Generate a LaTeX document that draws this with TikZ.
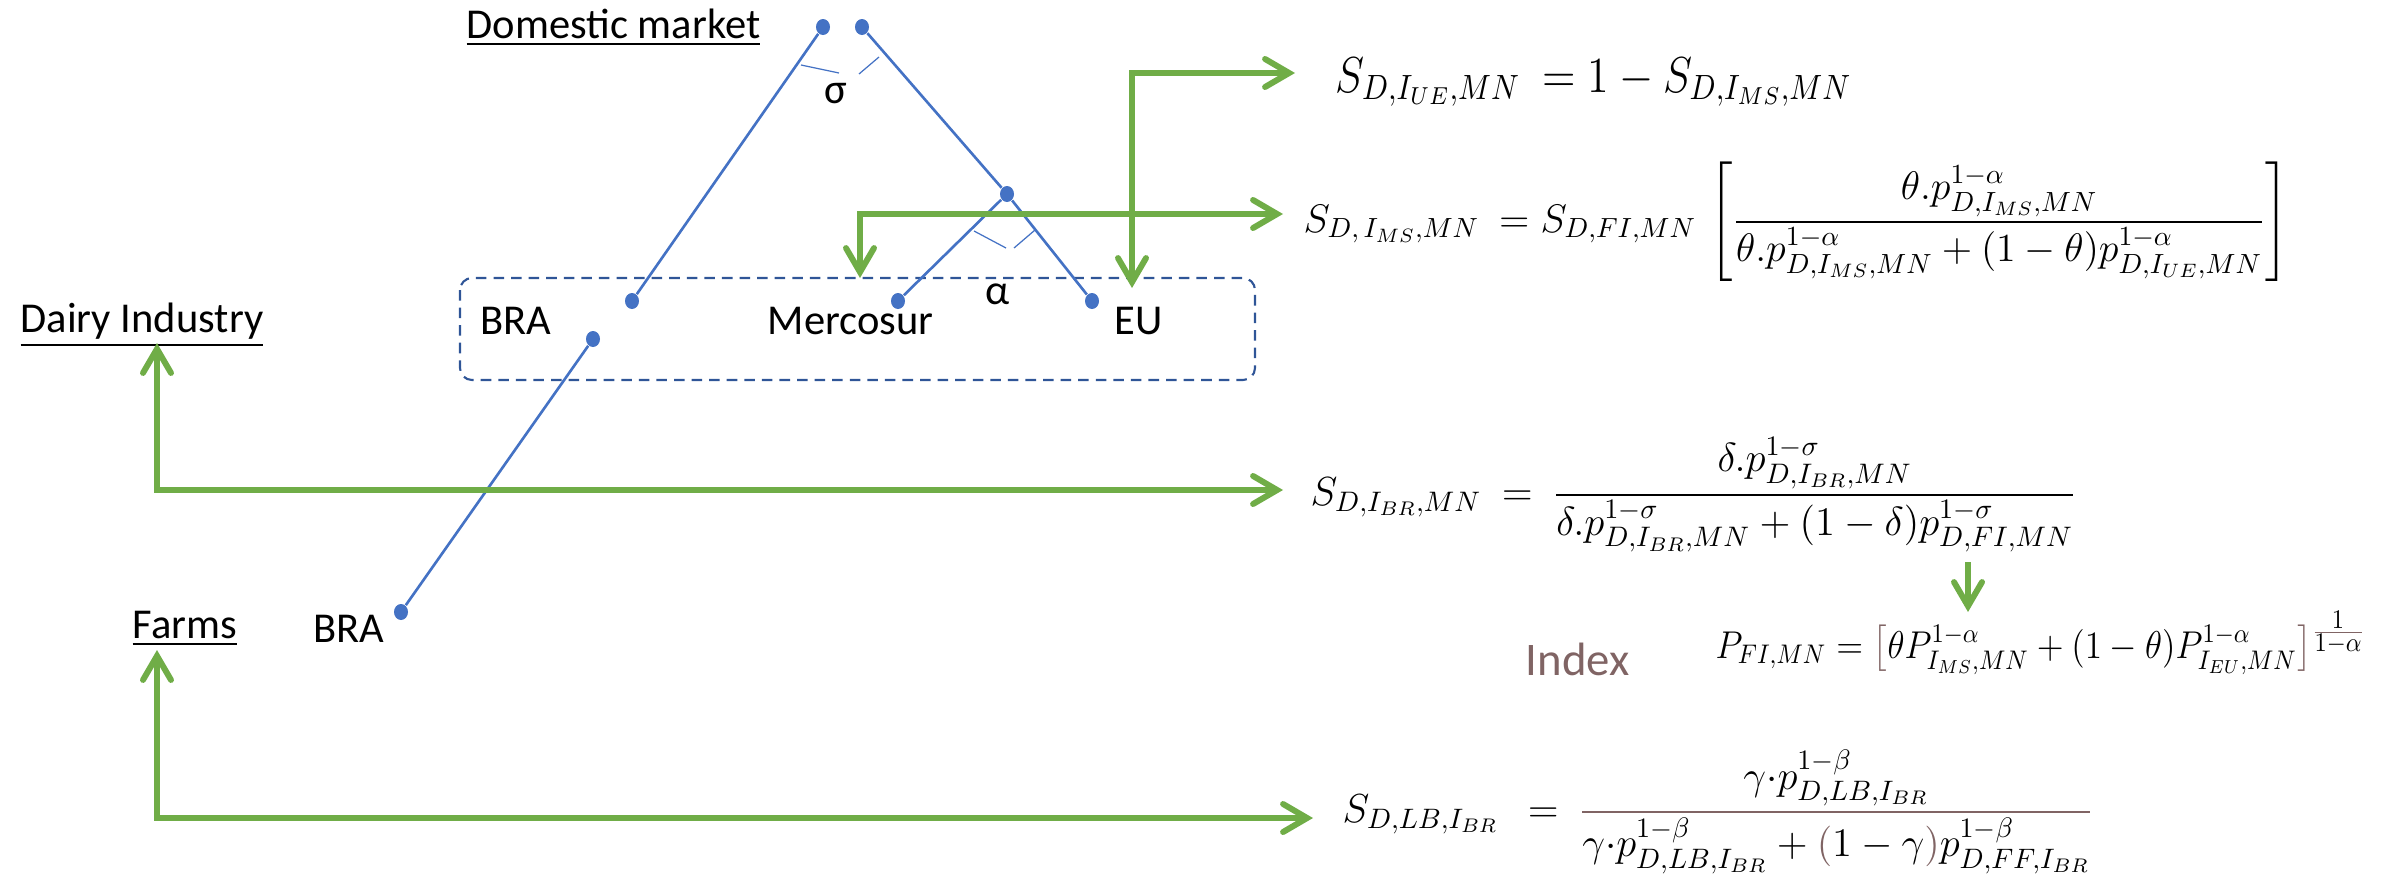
\documentclass[tikz,border=0pt]{standalone}
\usepackage[no-math]{fontspec}
\setmainfont{Carlito}
\usepackage{amsmath}
\usepackage{graphicx}
\usetikzlibrary{arrows.meta,shapes.geometric}
\definecolor{gr}{RGB}{112,173,71}
\definecolor{bl}{RGB}{68,114,196}
\definecolor{dbl}{RGB}{47,85,151}
\definecolor{brn}{RGB}{128,100,100}
\begin{document}
\begin{tikzpicture}[x=1cm,y=1cm,
  lbl/.style={anchor=base west, inner sep=0, font=\fontsize{12.1}{14}\selectfont},
  eqn/.style={anchor=base west, inner sep=0, font=\fontsize{14}{16}\selectfont},
  garrow/.style={draw=gr, line width=1.7pt, line cap=rect, -{Straight Barb[length=0.24cm,width=0.28cm,line cap=round]}},
  bline/.style={draw=bl, line width=0.75pt},
  tick/.style={draw=bl, line width=0.35pt},
  dot/.style={ellipse, fill=bl, inner sep=0, minimum width=0.14cm, minimum height=0.16cm},
]
\useasboundingbox (0,0) rectangle (23.99,-8.83);

% dashed box
\draw[dbl, line width=0.6pt, dash pattern=on 3pt off 2pt, rounded corners=0.12cm] (4.60,-2.78) rectangle (12.55,-3.80);

% labels
\node[lbl] (dom) at (4.66,-0.38) {\underline{Domestic market}};
\node[lbl] (dairy) at (0.20,-3.32) {\underline{Dairy Industry}};
\node[lbl] (farms) at (1.32,-6.38) {\underline{Farms}};
\node[lbl] (braBox) at (4.80,-3.34) {BRA};
\node[lbl] (merc) at (7.67,-3.34) {Mercosur};
\node[lbl] (eu) at (11.14,-3.34) {EU};
\node[lbl] (braLow) at (3.13,-6.42) {BRA};
\node[lbl] (sig) at (8.24,-1.03) {σ};
\node[lbl] (alp) at (9.85,-3.04) {α};
\node[lbl, font=\fontsize{13.3}{15}\selectfont, text=brn] (idx) at (15.25,-6.75) {Index};

% dots
\node[dot] (dTL) at (8.23,-0.27) {};
\node[dot] (dTR) at (8.62,-0.27) {};
\node[dot] (dMid) at (10.07,-1.94) {};
\node[dot] (dBRA) at (6.32,-3.01) {};
\node[dot] (dMerc) at (8.98,-3.01) {};
\node[dot] (dEU) at (10.92,-3.01) {};
\node[dot] (dBRA2) at (5.93,-3.39) {};
\node[dot] (dFarm) at (4.01,-6.12) {};

% blue tree
\draw[bline] (dTL) -- (dBRA);
\draw[bline] (dTR) -- (dMid);
\draw[bline] (dMid) -- (dEU);
\draw[bline] (dMid) -- (dMerc);
\draw[bline] (dBRA2) -- (dFarm);

% angle marks
\draw[tick] (8.01,-0.65) -- (8.39,-0.73);
\draw[tick] (8.59,-0.74) -- (8.79,-0.57);
\draw[tick] (9.74,-2.31) -- (10.06,-2.48);
\draw[tick] (10.14,-2.48) -- (10.35,-2.30);

% equations
\node[eqn] (eqA) at (13.35,-0.92) {\scalebox{1}[1.15]{\resizebox{5.16cm}{!}{$S_{D,I_{UE},MN}\ = 1 - S_{D,I_{MS},MN}$}}};
\node[eqn] (eqB) at (13.03,-2.32) {\resizebox{9.85cm}{!}{$\displaystyle S_{D,\,I_{MS},MN}\ = S_{D,FI,MN}\,\left[\frac{\theta.p^{1-\alpha}_{D,I_{MS},MN}}{\theta.p^{1-\alpha}_{D,I_{MS},MN}+(1-\theta)p^{1-\alpha}_{D,I_{UE},MN}}\right]$}};
\node[eqn] (eqC) at (13.10,-5.05) {\resizebox{7.66cm}{!}{$\displaystyle S_{D,I_{BR},MN}\ =\ \frac{\delta.p^{1-\sigma}_{D,I_{BR},MN}}{\delta.p^{1-\sigma}_{D,I_{BR},MN}+(1-\delta)p^{1-\sigma}_{D,FI,MN}}$}};
\node[eqn] (eqD) at (17.15,-6.58) {\scalebox{1}[1.1]{\resizebox{6.50cm}{!}{$P_{FI,MN} = {\color{brn}\bigl[}\theta P^{1-\alpha}_{I_{MS},MN}+(1-\theta)P^{1-\alpha}_{I_{EU},MN}{\color{brn}\bigr]}^{{\color{brn}\frac{\color{black}\scriptstyle 1}{\color{black}\scriptstyle 1-\alpha}}}$}}};
\node[eqn] (eqE) at (13.42,-8.22) {\resizebox{7.51cm}{!}{$\displaystyle S_{D,LB,I_{BR}}\ \ =\ {\color{brn}\frac{\color{black}\gamma{\cdot}p^{1-\beta}_{D,LB,I_{BR}}}{\color{black}\gamma{\cdot}p^{1-\beta}_{D,LB,I_{BR}}+{\color{brn}(}1-\gamma{\color{brn})}p^{1-\beta}_{D,FF,I_{BR}}}}$}};

% green connectors
\coordinate (cDairy) at (1.57,-4.90);
\coordinate (tDairy) at (1.57,-3.43);
\coordinate (tC) at (12.83,-4.90);
\coordinate (cFarm) at (1.57,-8.18);
\coordinate (tFarm) at (1.57,-6.50);
\coordinate (tE) at (13.13,-8.18);
\coordinate (cEU) at (11.32,-0.73);
\coordinate (tEU) at (11.32,-2.88);
\coordinate (tA) at (12.95,-0.73);
\coordinate (cMerc) at (8.60,-2.14);
\coordinate (tMerc) at (8.60,-2.78);
\coordinate (tB) at (12.83,-2.14);
\coordinate (sD) at (19.68,-5.65);
\coordinate (tD) at (19.68,-6.12);

\draw[garrow] (cDairy) -- (tDairy);
\draw[garrow] (cDairy) -- (tC);
\draw[garrow] (cFarm) -- (tFarm);
\draw[garrow] (cFarm) -- (tE);
\draw[garrow] (cEU) -- (tEU);
\draw[garrow] (cEU) -- (tA);
\draw[garrow] (cMerc) -- (tMerc);
\draw[garrow] (cMerc) -- (tB);
\draw[garrow] (sD) -- (tD);
\end{tikzpicture}
\end{document}
